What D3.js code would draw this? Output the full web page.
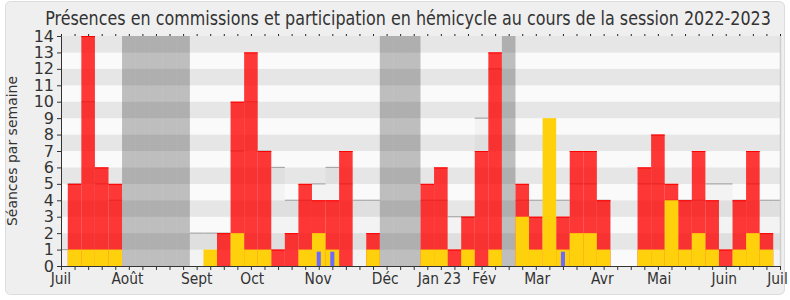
<!DOCTYPE html>
<html lang="fr">
<head>
<meta charset="UTF-8">
<title>Présences en commissions et participation en hémicycle</title>
<script src="https://cdnjs.cloudflare.com/ajax/libs/d3/7.8.5/d3.min.js"></script>
<style>
  body { margin: 0; background: #fff; font-family: 'DejaVu Sans', sans-serif; }
  svg text { fill: #333; font-family: 'DejaVu Sans', sans-serif; }
  .squeeze { transform-box: fill-box; transform-origin: center; transform: scaleX(0.84); }
</style>
</head>
<body>
<div id="chart"></div>
<script>
// weeks of the session, 1..52 (x domain runs 0..53)
const weeks = d3.range(1, 53);

// présences en commission (rouge)
const commission = [5, 14, 6, 5, 0, 0, 0, 0, 0, 0, 0, 2, 10, 13, 7, 1, 2, 5, 4, 4, 7, 0, 2, 0, 0, 0,
                    5, 6, 1, 3, 7, 13, 0, 5, 3, 0, 3, 7, 7, 4, 0, 0, 6, 8, 5, 4, 7, 4, 1, 4, 7, 2];
// participation en hémicycle (jaune)
const hemicycle = [1, 1, 1, 1, 0, 0, 0, 0, 0, 0, 1, 0, 2, 1, 1, 0, 0, 1, 2, 1, 0, 0, 1, 0, 0, 0,
                   1, 1, 0, 1, 0, 1, 0, 3, 1, 9, 1, 2, 2, 1, 0, 0, 1, 1, 4, 1, 2, 1, 0, 1, 2, 1];
// questions orales (bleu)
const questions = [0, 0, 0, 0, 0, 0, 0, 0, 0, 0, 0, 0, 0, 0, 0, 0, 0, 0, 1, 1, 0, 0, 0, 0, 0, 0,
                   0, 0, 0, 0, 0, 0, 0, 0, 0, 0, 1, 0, 0, 0, 0, 0, 0, 0, 0, 0, 0, 0, 0, 0, 0, 0];
// médiane des députés, semaines 0..53
const medianWeeks = d3.range(0, 54);
const median = [1, 5, 10, 5, 4, 0, 0, 0, 0, 0, 2, 2, 2, 7, 10, 7, 6, 4, 4, 5, 6, 5, 4, 4, 0, 0, 0,
                4, 4, 3, 3, 9, 12, 0, 4, 4, 4, 4, 5, 5, 4, 0, 0, 5, 5, 4, 4, 4, 5, 5, 4, 5, 4, 4];
// semaines de vacances parlementaires
const vacances = [5, 6, 7, 8, 9, 24, 25, 26, 33];

const monthLabels = ["Juil", "Août", "Sept", "Oct", "Nov", "Déc", "Jan 23", "Fév", "Mar", "Avr", "Mai", "Juin", "Juil"];
const monthPos = [0, 4.9, 10.0, 14.1, 18.95, 23.9, 27.9, 31.2, 35.1, 39.9, 44.1, 48.9, 52.82];
const yTicks = d3.range(0, 15);

const W = 790, H = 300;
const margin = {left: 61, right: 10, top: 36, bottom: 34};

const svg = d3.select("#chart").append("svg")
    .attr("width", W).attr("height", H);

svg.append("rect")
    .attr("x", 5.5).attr("y", 1.5).attr("width", 779).attr("height", 293)
    .attr("rx", 5).attr("fill", "#efefef").attr("stroke", "#dcdcdc");

const x = d3.scaleLinear().domain([0, 53]).range([margin.left, W - margin.right]);
const y = d3.scaleLinear().domain([0, 14]).range([H - margin.bottom, margin.top]);
const bw = x(1) - x(0);

svg.append("defs").append("clipPath").attr("id", "plot")
  .append("rect").attr("x", x(0)).attr("y", y(14))
  .attr("width", x(53) - x(0)).attr("height", y(0) - y(14));

const plot = svg.append("g").attr("clip-path", "url(#plot)");

// horizontal stripes
plot.selectAll(".stripe").data(d3.range(0, 14)).join("rect")
    .attr("x", x(0)).attr("width", x(53) - x(0))
    .attr("y", d => y(d + 1)).attr("height", d => y(d) - y(d + 1))
    .attr("fill", d => d % 2 ? "#e6e6e6" : "#fafafa");

// median overlay
const med = medianWeeks.map((w, i) => ({w, v: median[i]})).filter(d => d.v > 0);
plot.selectAll(".med").data(med).join("rect")
    .attr("x", d => x(d.w - 0.5)).attr("width", bw)
    .attr("y", d => y(d.v)).attr("height", d => y(0) - y(d.v))
    .attr("fill", "rgba(0,0,0,0.028)");
plot.selectAll(".medline").data(med).join("line")
    .attr("x1", d => x(d.w - 0.5)).attr("x2", d => x(d.w + 0.5))
    .attr("y1", d => y(d.v)).attr("y2", d => y(d.v))
    .attr("stroke", "#a8a8a8").attr("stroke-width", 1.2);

// vacances
plot.selectAll(".vac").data(vacances).join("rect")
    .attr("x", d => x(d - 0.5)).attr("width", bw)
    .attr("y", y(14)).attr("height", y(0) - y(14))
    .attr("fill", "rgba(0,0,0,0.24)");

// commission bars
const com = weeks.map((w, i) => ({w, v: commission[i]})).filter(d => d.v > 0);
plot.selectAll(".com").data(com).join("rect")
    .attr("x", d => x(d.w - 0.5)).attr("width", bw)
    .attr("y", d => y(d.v)).attr("height", d => y(0) - y(d.v))
    .attr("fill", "rgba(255,0,0,0.78)");
plot.selectAll(".comtop").data(com).join("line")
    .attr("x1", d => x(d.w - 0.5)).attr("x2", d => x(d.w + 0.5))
    .attr("y1", d => y(d.v) + 0.5).attr("y2", d => y(d.v) + 0.5)
    .attr("stroke", "#f00").attr("stroke-width", 1);

// hemicycle bars
const hem = weeks.map((w, i) => ({w, v: hemicycle[i]})).filter(d => d.v > 0);
plot.selectAll(".hem").data(hem).join("rect")
    .attr("x", d => x(d.w - 0.5)).attr("width", bw)
    .attr("y", d => y(d.v)).attr("height", d => y(0) - y(d.v))
    .attr("fill", "#fed10c");

// questions
const qst = weeks.map((w, i) => ({w, v: questions[i]})).filter(d => d.v > 0);
plot.selectAll(".qst").data(qst).join("rect")
    .attr("x", d => x(d.w - 0.15)).attr("width", bw * 0.3)
    .attr("y", d => y(d.v * 0.87)).attr("height", d => y(0) - y(d.v * 0.87))
    .attr("fill", "#6b6bff");

// right edge
svg.append("line")
    .attr("x1", x(53) + 0.5).attr("x2", x(53) + 0.5).attr("y1", y(14)).attr("y2", y(0))
    .attr("stroke", "#cfcfcf").attr("stroke-width", 1.5);

// axes
const yAxis = svg.append("g").attr("transform", `translate(${x(0)},0)`)
    .call(d3.axisLeft(y).tickValues(yTicks).tickSize(4).tickPadding(3).tickFormat(d3.format("d")));
yAxis.selectAll("path, line").attr("stroke", "#333");
yAxis.selectAll("text").attr("font-size", 16).attr("font-family", "DejaVu Sans").attr("fill", "#333");

const xAxis = svg.append("g").attr("transform", `translate(0,${y(0)})`)
    .call(d3.axisBottom(x).tickValues(d3.range(0, 54)).tickSize(4).tickFormat(""));
xAxis.selectAll("path, line").attr("stroke", "#333");

const topTicks = svg.append("g").attr("transform", `translate(0,${y(14)})`)
    .call(d3.axisTop(x).tickValues(d3.range(0, 54)).tickSize(2).tickFormat(""));
topTicks.select(".domain").remove();
topTicks.selectAll("line").attr("stroke", "#222");

svg.selectAll(".month").data(monthLabels).join("text")
    .attr("class", "squeeze")
    .attr("x", (d, i) => x(monthPos[i])).attr("y", y(0) + 18.5)
    .attr("text-anchor", "middle").attr("font-size", 16.5)
    .text(d => d);

// titles
svg.append("text")
    .attr("class", "squeeze")
    .attr("x", 408).attr("y", 25)
    .attr("text-anchor", "middle").attr("font-size", 19)
    .text("Présences en commissions et participation en hémicycle au cours de la session 2022-2023");

svg.append("text")
    .attr("transform", `translate(16.5,${(y(0) + y(14)) / 2}) rotate(-90)`)
    .attr("text-anchor", "middle").attr("font-size", 14)
    .text("Séances par semaine");
</script>
</body>
</html>
